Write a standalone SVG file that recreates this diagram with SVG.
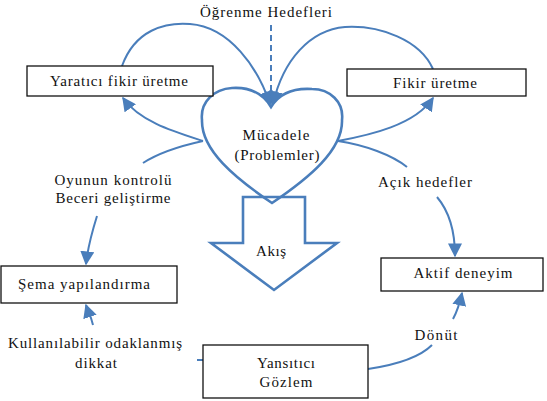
<svg xmlns="http://www.w3.org/2000/svg" width="547" height="401" viewBox="0 0 547 401">
<defs>
<marker id="ah" markerUnits="userSpaceOnUse" markerWidth="14" markerHeight="14" viewBox="0 0 10 10" refX="9" refY="5" orient="auto">
<path d="M0,0 L10,5 L0,10 Z" fill="#4a7ebb"/>
</marker>
<style>
text{font-family:"Liberation Serif","Times New Roman",serif;font-size:15px;fill:#111;text-anchor:middle}
.box{fill:#fff;stroke:#111;stroke-width:1.3}
.c{fill:none;stroke:#4a7ebb;stroke-width:2}
.a{marker-end:url(#ah)}
.shape{fill:none;stroke:#4a7ebb;stroke-width:2.6;stroke-linejoin:miter}
</style>
</defs>
<rect width="547" height="401" fill="#fff"/>

<g id="heart">
<path class="shape" d="M271,107 C262,92 248,87 232,88 C214,89 200,102 202,120 C201,150 235,178 272,203 C309,178 343,150 342,120 C344,102 330,89 312,89 C296,88 280,92 271,107 Z"/>
<text x="276" y="140" textLength="67" lengthAdjust="spacing">Mücadele</text>
<text x="277" y="160" textLength="85" lengthAdjust="spacing">(Problemler)</text>
</g>

<g id="akis">
<polygon class="shape" points="243,197 305,197 305,243 337,243 274,290 211,243 243,243"/>
<text x="271" y="256" textLength="30" lengthAdjust="spacing">Akış</text>
</g>

<g id="connectors">
<path class="c a" stroke-dasharray="6,4" d="M271,25 L271,104"/>
<path class="c a" d="M122,66 C135,30 165,22 190,24 C230,27 258,68 270,104"/>
<path class="c a" d="M433,69 C420,40 380,25 345,27 C310,30 283,60 273,104"/>
<path class="c a" d="M203,141 C175,132 140,122 123,98"/>
<path class="c" d="M203,141 C180,146 160,152 143,163"/>
<path class="c a" d="M97,216 C92,232 88,245 86,264"/>
<path class="c a" d="M338,141 C370,135 415,125 433,98"/>
<path class="c" d="M338,141 C365,145 392,155 407,167"/>
<path class="c a" d="M437,197 C448,210 455,230 455,256"/>
<path class="c a" d="M93,325 C91,316 88,311 86,305"/>
<path class="c" d="M197,360 L203,360"/>
<path class="c" d="M368,369 C395,365 420,357 432,345"/>
<path class="c a" d="M453,319 C458,310 460,302 462,293"/>
</g>

<g id="ogrenme">
<text x="266" y="17" textLength="132" lengthAdjust="spacing">Öğrenme Hedefleri</text>
</g>

<g id="yaratici">
<rect class="box" x="27" y="66" width="186" height="30"/>
<text x="119" y="86" textLength="138" lengthAdjust="spacing">Yaratıcı fikir üretme</text>
</g>

<g id="fikir">
<rect class="box" x="347" y="69" width="179" height="27"/>
<text x="435" y="88" textLength="84" lengthAdjust="spacing">Fikir üretme</text>
</g>

<g id="oyunun">
<text x="113" y="185" textLength="117" lengthAdjust="spacing">Oyunun kontrolü</text>
<text x="113" y="203" textLength="115" lengthAdjust="spacing">Beceri geliştirme</text>
</g>

<g id="acik">
<text x="425" y="187" textLength="94" lengthAdjust="spacing">Açık hedefler</text>
</g>

<g id="sema">
<rect class="box" x="1" y="266" width="176" height="37"/>
<text x="84" y="289" textLength="132" lengthAdjust="spacing">Şema yapılandırma</text>
</g>

<g id="aktif">
<rect class="box" x="381" y="258" width="162" height="33"/>
<text x="463" y="278" textLength="99" lengthAdjust="spacing">Aktif deneyim</text>
</g>

<g id="kullan">
<text x="95" y="348" textLength="174" lengthAdjust="spacing">Kullanılabilir odaklanmış</text>
<text x="96" y="368" textLength="42" lengthAdjust="spacing">dikkat</text>
</g>

<g id="donut">
<text x="436" y="340" textLength="43" lengthAdjust="spacing">Dönüt</text>
</g>

<g id="yansitici">
<rect class="box" x="203" y="345" width="165" height="53"/>
<text x="286" y="368" textLength="58" lengthAdjust="spacing">Yansıtıcı</text>
<text x="286" y="387" textLength="53" lengthAdjust="spacing">Gözlem</text>
</g>
</svg>
